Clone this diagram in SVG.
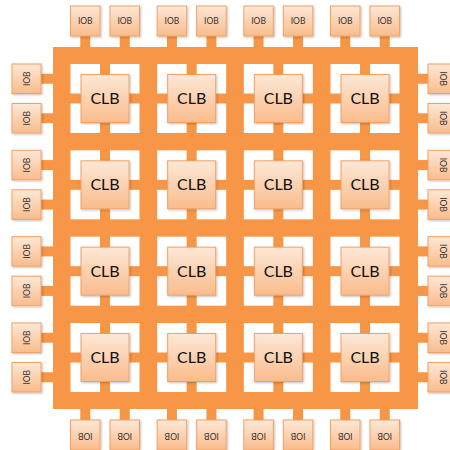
<svg xmlns="http://www.w3.org/2000/svg" xmlns:xlink="http://www.w3.org/1999/xlink" width="450" height="450" viewBox="0 0 450 450">
<defs>
<linearGradient id="boxfill" x1="0" y1="0" x2="0" y2="1">
<stop offset="0" stop-color="#FDE8D7"/>
<stop offset="1" stop-color="#F9BC8C"/>
</linearGradient>
<filter id="sh" x="-20%" y="-20%" width="150%" height="150%">
<feDropShadow dx="1" dy="1" stdDeviation="0.8" flood-color="#000" flood-opacity="0.25"/>
</filter>
<g id="holes">
<rect x="0" y="0" width="29.5" height="29.5"/>
<rect x="39.5" y="0" width="29.5" height="29.5"/>
<rect x="0" y="39.5" width="29.5" height="29.5"/>
<rect x="39.5" y="39.5" width="29.5" height="29.5"/>
</g>
</defs>
<style>
.fabric{fill:#F79646}
.hole{fill:#FFFFFF}
.box{fill:url(#boxfill);stroke:#F4A064;stroke-width:1;filter:url(#sh)}
.clbt{font-family:Lato,"Liberation Sans",sans-serif;font-size:16px;fill:#111;text-anchor:middle}
.iobt{font-family:Lato,"Liberation Sans",sans-serif;font-size:8.5px;fill:#333;text-anchor:middle}
</style>
<rect width="450" height="450" fill="#FFFFFF"/>
<g id="connectors" class="fabric">
<rect x="53" y="47" width="365" height="362"/>
<g class="hole">
<use xlink:href="#holes" transform="translate(70.5,64)"/>
<use xlink:href="#holes" transform="translate(157.17,64)"/>
<use xlink:href="#holes" transform="translate(243.83,64)"/>
<use xlink:href="#holes" transform="translate(330.5,64)"/>
<use xlink:href="#holes" transform="translate(70.5,150.33)"/>
<use xlink:href="#holes" transform="translate(157.17,150.33)"/>
<use xlink:href="#holes" transform="translate(243.83,150.33)"/>
<use xlink:href="#holes" transform="translate(330.5,150.33)"/>
<use xlink:href="#holes" transform="translate(70.5,236.67)"/>
<use xlink:href="#holes" transform="translate(157.17,236.67)"/>
<use xlink:href="#holes" transform="translate(243.83,236.67)"/>
<use xlink:href="#holes" transform="translate(330.5,236.67)"/>
<use xlink:href="#holes" transform="translate(70.5,323)"/>
<use xlink:href="#holes" transform="translate(157.17,323)"/>
<use xlink:href="#holes" transform="translate(243.83,323)"/>
<use xlink:href="#holes" transform="translate(330.5,323)"/>
</g>
<!-- top stubs -->
<rect x="80.25" y="35" width="10" height="13"/><rect x="119.75" y="35" width="10" height="13"/>
<rect x="166.92" y="35" width="10" height="13"/><rect x="206.42" y="35" width="10" height="13"/>
<rect x="253.58" y="35" width="10" height="13"/><rect x="293.08" y="35" width="10" height="13"/>
<rect x="340.25" y="35" width="10" height="13"/><rect x="379.75" y="35" width="10" height="13"/>
<!-- bottom stubs -->
<rect x="80.25" y="408" width="10" height="13"/><rect x="119.75" y="408" width="10" height="13"/>
<rect x="166.92" y="408" width="10" height="13"/><rect x="206.42" y="408" width="10" height="13"/>
<rect x="253.58" y="408" width="10" height="13"/><rect x="293.08" y="408" width="10" height="13"/>
<rect x="340.25" y="408" width="10" height="13"/><rect x="379.75" y="408" width="10" height="13"/>
<!-- left stubs -->
<rect x="40" y="73.75" width="14" height="10"/><rect x="40" y="113.25" width="14" height="10"/>
<rect x="40" y="160.08" width="14" height="10"/><rect x="40" y="199.58" width="14" height="10"/>
<rect x="40" y="246.42" width="14" height="10"/><rect x="40" y="285.92" width="14" height="10"/>
<rect x="40" y="332.75" width="14" height="10"/><rect x="40" y="372.25" width="14" height="10"/>
<!-- right stubs -->
<rect x="417" y="73.75" width="12" height="10"/><rect x="417" y="113.25" width="12" height="10"/>
<rect x="417" y="160.08" width="12" height="10"/><rect x="417" y="199.58" width="12" height="10"/>
<rect x="417" y="246.42" width="12" height="10"/><rect x="417" y="285.92" width="12" height="10"/>
<rect x="417" y="332.75" width="12" height="10"/><rect x="417" y="372.25" width="12" height="10"/>
</g>
<!-- CLBs -->
<g id="clb-1-1"><rect class="box" x="81" y="74.5" width="48" height="48"/><text class="clbt" x="105" y="104">CLB</text></g>
<g id="clb-1-2"><rect class="box" x="167.67" y="74.5" width="48" height="48"/><text class="clbt" x="191.67" y="104">CLB</text></g>
<g id="clb-1-3"><rect class="box" x="254.33" y="74.5" width="48" height="48"/><text class="clbt" x="278.33" y="104">CLB</text></g>
<g id="clb-1-4"><rect class="box" x="341" y="74.5" width="48" height="48"/><text class="clbt" x="365" y="104">CLB</text></g>
<g id="clb-2-1"><rect class="box" x="81" y="160.83" width="48" height="48"/><text class="clbt" x="105" y="190.33">CLB</text></g>
<g id="clb-2-2"><rect class="box" x="167.67" y="160.83" width="48" height="48"/><text class="clbt" x="191.67" y="190.33">CLB</text></g>
<g id="clb-2-3"><rect class="box" x="254.33" y="160.83" width="48" height="48"/><text class="clbt" x="278.33" y="190.33">CLB</text></g>
<g id="clb-2-4"><rect class="box" x="341" y="160.83" width="48" height="48"/><text class="clbt" x="365" y="190.33">CLB</text></g>
<g id="clb-3-1"><rect class="box" x="81" y="247.17" width="48" height="48"/><text class="clbt" x="105" y="276.67">CLB</text></g>
<g id="clb-3-2"><rect class="box" x="167.67" y="247.17" width="48" height="48"/><text class="clbt" x="191.67" y="276.67">CLB</text></g>
<g id="clb-3-3"><rect class="box" x="254.33" y="247.17" width="48" height="48"/><text class="clbt" x="278.33" y="276.67">CLB</text></g>
<g id="clb-3-4"><rect class="box" x="341" y="247.17" width="48" height="48"/><text class="clbt" x="365" y="276.67">CLB</text></g>
<g id="clb-4-1"><rect class="box" x="81" y="333.5" width="48" height="48"/><text class="clbt" x="105" y="363">CLB</text></g>
<g id="clb-4-2"><rect class="box" x="167.67" y="333.5" width="48" height="48"/><text class="clbt" x="191.67" y="363">CLB</text></g>
<g id="clb-4-3"><rect class="box" x="254.33" y="333.5" width="48" height="48"/><text class="clbt" x="278.33" y="363">CLB</text></g>
<g id="clb-4-4"><rect class="box" x="341" y="333.5" width="48" height="48"/><text class="clbt" x="365" y="363">CLB</text></g>
<!-- top IOBs -->
<g id="iob-t1"><rect class="box" x="70.5" y="6" width="29.5" height="30"/><text class="iobt" x="85.25" y="24">IOB</text></g>
<g id="iob-t2"><rect class="box" x="110" y="6" width="29.5" height="30"/><text class="iobt" x="124.75" y="24">IOB</text></g>
<g id="iob-t3"><rect class="box" x="157.17" y="6" width="29.5" height="30"/><text class="iobt" x="171.92" y="24">IOB</text></g>
<g id="iob-t4"><rect class="box" x="196.67" y="6" width="29.5" height="30"/><text class="iobt" x="211.42" y="24">IOB</text></g>
<g id="iob-t5"><rect class="box" x="243.83" y="6" width="29.5" height="30"/><text class="iobt" x="258.58" y="24">IOB</text></g>
<g id="iob-t6"><rect class="box" x="283.33" y="6" width="29.5" height="30"/><text class="iobt" x="298.08" y="24">IOB</text></g>
<g id="iob-t7"><rect class="box" x="330.5" y="6" width="29.5" height="30"/><text class="iobt" x="345.25" y="24">IOB</text></g>
<g id="iob-t8"><rect class="box" x="370" y="6" width="29.5" height="30"/><text class="iobt" x="384.75" y="24">IOB</text></g>
<!-- bottom IOBs -->
<g id="iob-b1"><rect class="box" x="70.5" y="420" width="29.5" height="30"/><text class="iobt" transform="translate(85.25,436) rotate(180)" y="3">IOB</text></g>
<g id="iob-b2"><rect class="box" x="110" y="420" width="29.5" height="30"/><text class="iobt" transform="translate(124.75,436) rotate(180)" y="3">IOB</text></g>
<g id="iob-b3"><rect class="box" x="157.17" y="420" width="29.5" height="30"/><text class="iobt" transform="translate(171.92,436) rotate(180)" y="3">IOB</text></g>
<g id="iob-b4"><rect class="box" x="196.67" y="420" width="29.5" height="30"/><text class="iobt" transform="translate(211.42,436) rotate(180)" y="3">IOB</text></g>
<g id="iob-b5"><rect class="box" x="243.83" y="420" width="29.5" height="30"/><text class="iobt" transform="translate(258.58,436) rotate(180)" y="3">IOB</text></g>
<g id="iob-b6"><rect class="box" x="283.33" y="420" width="29.5" height="30"/><text class="iobt" transform="translate(298.08,436) rotate(180)" y="3">IOB</text></g>
<g id="iob-b7"><rect class="box" x="330.5" y="420" width="29.5" height="30"/><text class="iobt" transform="translate(345.25,436) rotate(180)" y="3">IOB</text></g>
<g id="iob-b8"><rect class="box" x="370" y="420" width="29.5" height="30"/><text class="iobt" transform="translate(384.75,436) rotate(180)" y="3">IOB</text></g>
<!-- left IOBs -->
<g id="iob-l1"><rect class="box" x="12" y="64" width="29" height="29.5"/><text class="iobt" transform="translate(26.5,78.75) rotate(-90)" y="3">IOB</text></g>
<g id="iob-l2"><rect class="box" x="12" y="103.5" width="29" height="29.5"/><text class="iobt" transform="translate(26.5,118.25) rotate(-90)" y="3">IOB</text></g>
<g id="iob-l3"><rect class="box" x="12" y="150.33" width="29" height="29.5"/><text class="iobt" transform="translate(26.5,165.08) rotate(-90)" y="3">IOB</text></g>
<g id="iob-l4"><rect class="box" x="12" y="189.83" width="29" height="29.5"/><text class="iobt" transform="translate(26.5,204.58) rotate(-90)" y="3">IOB</text></g>
<g id="iob-l5"><rect class="box" x="12" y="236.67" width="29" height="29.5"/><text class="iobt" transform="translate(26.5,251.42) rotate(-90)" y="3">IOB</text></g>
<g id="iob-l6"><rect class="box" x="12" y="276.17" width="29" height="29.5"/><text class="iobt" transform="translate(26.5,290.92) rotate(-90)" y="3">IOB</text></g>
<g id="iob-l7"><rect class="box" x="12" y="323" width="29" height="29.5"/><text class="iobt" transform="translate(26.5,337.75) rotate(-90)" y="3">IOB</text></g>
<g id="iob-l8"><rect class="box" x="12" y="362.5" width="29" height="29.5"/><text class="iobt" transform="translate(26.5,377.25) rotate(-90)" y="3">IOB</text></g>
<!-- right IOBs -->
<g id="iob-r1"><rect class="box" x="428" y="64" width="30" height="29.5"/><text class="iobt" transform="translate(443,78.75) rotate(90)" y="3">IOB</text></g>
<g id="iob-r2"><rect class="box" x="428" y="103.5" width="30" height="29.5"/><text class="iobt" transform="translate(443,118.25) rotate(90)" y="3">IOB</text></g>
<g id="iob-r3"><rect class="box" x="428" y="150.33" width="30" height="29.5"/><text class="iobt" transform="translate(443,165.08) rotate(90)" y="3">IOB</text></g>
<g id="iob-r4"><rect class="box" x="428" y="189.83" width="30" height="29.5"/><text class="iobt" transform="translate(443,204.58) rotate(90)" y="3">IOB</text></g>
<g id="iob-r5"><rect class="box" x="428" y="236.67" width="30" height="29.5"/><text class="iobt" transform="translate(443,251.42) rotate(90)" y="3">IOB</text></g>
<g id="iob-r6"><rect class="box" x="428" y="276.17" width="30" height="29.5"/><text class="iobt" transform="translate(443,290.92) rotate(90)" y="3">IOB</text></g>
<g id="iob-r7"><rect class="box" x="428" y="323" width="30" height="29.5"/><text class="iobt" transform="translate(443,337.75) rotate(90)" y="3">IOB</text></g>
<g id="iob-r8"><rect class="box" x="428" y="362.5" width="30" height="29.5"/><text class="iobt" transform="translate(443,377.25) rotate(90)" y="3">IOB</text></g>
</svg>
